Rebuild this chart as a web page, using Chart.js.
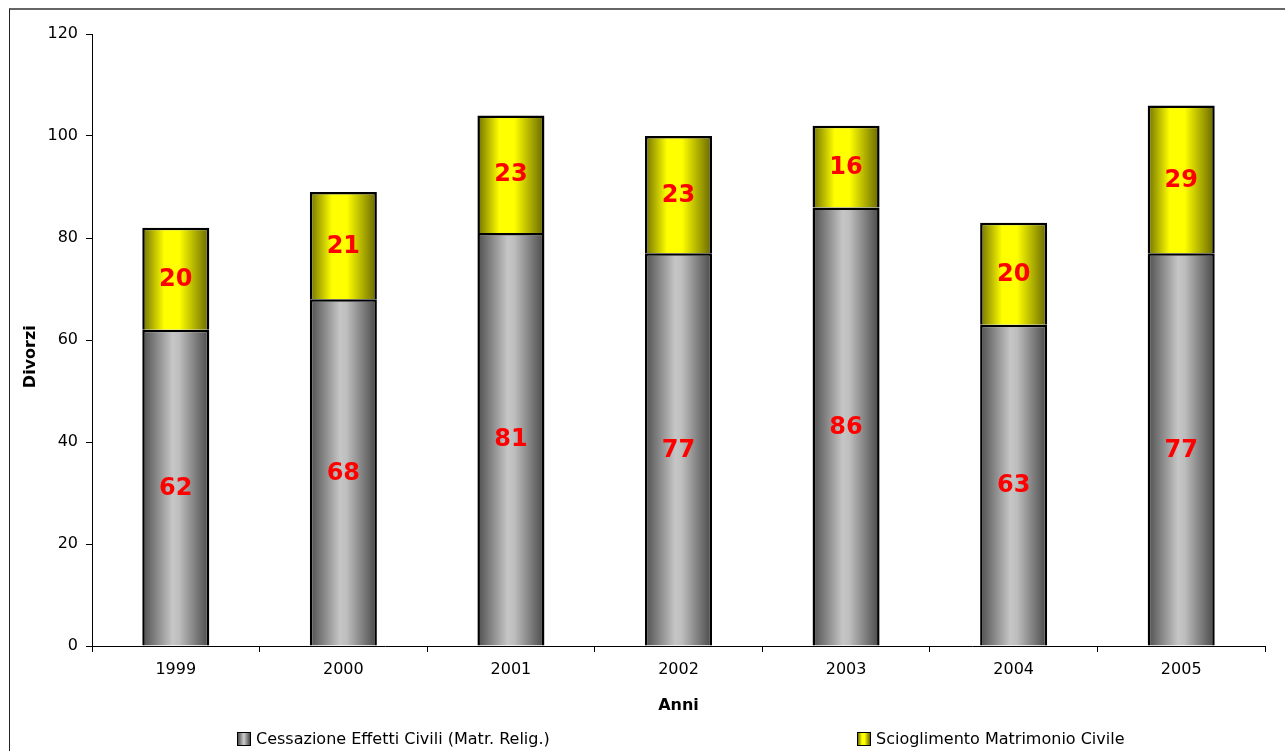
<!DOCTYPE html>
<html>
<head>
<meta charset="utf-8">
<script src="https://cdn.jsdelivr.net/npm/chart.js@4"></script>
<style>
  body { margin: 0; background: #fff; }
  #wrap { position: relative; width: 1285px; height: 751px; overflow: hidden; font-family: "DejaVu Sans", Verdana, sans-serif; }
  #frame { position: absolute; left: 9px; top: 8px; width: 1400px; height: 800px; border-left: 1px solid #222; border-top: 2px solid #666; }
  canvas { position: absolute; left: 0; top: 0; }
  .voce { position: absolute; top: 729px; font-size: 16px; color: #000; white-space: nowrap; display: flex; align-items: center; }
  .voce span.box { display: inline-block; width: 12px; height: 12px; border: 1px solid #000; margin-right: 5px; }
</style>
</head>
<body>
<div id="wrap">
  <div id="frame"></div>
  <canvas id="grafico" width="1285" height="751"></canvas>
  <div class="voce" id="voce0" style="left:237px"><span class="box"></span><span class="testo"></span></div>
  <div class="voce" id="voce1" style="left:857px"><span class="box"></span><span class="testo"></span></div>
</div>
<script>
// Dati
const anni = ['1999', '2000', '2001', '2002', '2003', '2004', '2005'];
const cessazione = [62, 68, 81, 77, 86, 63, 77];
const scioglimento = [20, 21, 23, 23, 16, 20, 29];
const etichetteSerie = ['Cessazione Effetti Civili (Matr. Relig.)', 'Scioglimento Matrimonio Civile'];

const grigio = [[0, '#4e4e4e'], [0.45, '#c6c6c6'], [0.55, '#bebebe'], [1, '#484848']];
const giallo = [[0, '#707000'], [0.33, '#ffff00'], [0.55, '#ffff00'], [1, '#666600']];
const larghezzaBarra = 0.4;

// gradiente orizzontale per ogni barra
function gradienteBarra(stops) {
    return ctx => {
        const chart = ctx.chart;
        const x = chart.scales.x;
        if (!chart.chartArea || !x || ctx.dataIndex === undefined) return stops[1][1];
        const cx = x.getPixelForValue(ctx.dataIndex);
        const half = (x.width / anni.length) * larghezzaBarra / 2;
        const g = chart.ctx.createLinearGradient(cx - half, 0, cx + half, 0);
        stops.forEach(([p, c]) => g.addColorStop(p, c));
        return g;
    };
}

// valori in rosso al centro dei segmenti
const valoriBarre = {
    id: 'valoriBarre',
    afterDatasetsDraw(chart) {
        const ctx = chart.ctx;
        ctx.save();
        ctx.font = 'bold 24px "DejaVu Sans"';
        ctx.fillStyle = '#ff0000';
        ctx.textAlign = 'center';
        ctx.textBaseline = 'middle';
        chart.data.datasets.forEach((ds, i) => {
            chart.getDatasetMeta(i).data.forEach((el, j) => {
                const { x, y, base } = el.getProps(['x', 'y', 'base'], true);
                ctx.fillText(ds.data[j], x, (y + base) / 2 + 1);
            });
        });
        ctx.restore();
    }
};

const assiFont = { family: '"DejaVu Sans"', size: 16 };

new Chart(document.getElementById('grafico'), {
    type: 'bar',
    data: {
        labels: anni,
        datasets: [{
            label: etichetteSerie[0],
            data: cessazione,
            backgroundColor: gradienteBarra(grigio),
            borderColor: '#000',
            borderWidth: 2.5,
            borderSkipped: 'start'
        }, {
            label: etichetteSerie[1],
            data: scioglimento,
            backgroundColor: gradienteBarra(giallo),
            borderColor: '#000',
            borderWidth: 2.5,
            borderSkipped: 'start'
        }]
    },
    options: {
        responsive: false,
        animation: false,
        devicePixelRatio: 1,
        categoryPercentage: 1,
        barPercentage: larghezzaBarra,
        layout: { padding: { top: 34, right: 20, left: 10, bottom: 30 } },
        plugins: { legend: { display: false }, tooltip: { enabled: false } },
        scales: {
            x: {
                stacked: true,
                grid: { drawOnChartArea: false, color: '#000', tickLength: 6 },
                border: { color: '#000', width: 1 },
                ticks: { color: '#000', font: assiFont, padding: 8 },
                title: { display: true, text: 'Anni', color: '#000', font: { ...assiFont, weight: 'bold' }, padding: { top: 0, bottom: 6 } },
                afterFit: s => { s.height = 75; }
            },
            y: {
                stacked: true,
                min: 0,
                max: 120,
                ticks: { stepSize: 20, color: '#000', font: assiFont, padding: 8 },
                grid: { drawOnChartArea: false, color: '#000', tickLength: 6 },
                border: { color: '#000', width: 1 },
                // spazi finali per spostare il titolo verso il basso come nell'originale
                title: { display: true, text: 'Divorzi' + '\u00a0'.repeat(6), color: '#000', font: { ...assiFont, weight: 'bold' }, padding: { top: 11, bottom: 0 } },
                afterFit: s => { s.width = 82; }
            }
        }
    },
    plugins: [valoriBarre]
});

// legenda
const cssGrad = stops => 'linear-gradient(to right, ' + stops.map(([p, c]) => c + ' ' + (p * 100) + '%').join(', ') + ')';
[grigio, giallo].forEach((stops, i) => {
    const v = document.getElementById('voce' + i);
    v.querySelector('.box').style.background = cssGrad(stops);
    v.querySelector('.testo').textContent = etichetteSerie[i];
});
</script>
</body>
</html>
